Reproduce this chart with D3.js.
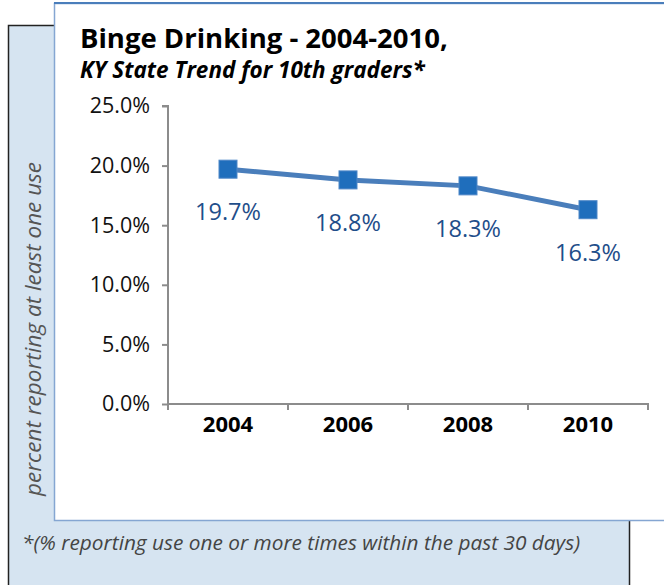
<!DOCTYPE html>
<html>
<head>
<meta charset="utf-8">
<script src="https://cdn.jsdelivr.net/npm/d3@7"></script>
<style>
  body { margin: 0; background: #fff; }
  text { font-family: "Open Sans", sans-serif; }
</style>
</head>
<body>
<div id="chart"></div>
<script>
// data
const years = ["2004", "2006", "2008", "2010"]
const rates = [19.7, 18.8, 18.3, 16.3]
const yTicks = [0, 5, 10, 15, 20, 25]

const width = 664, height = 585

const svg = d3.select("#chart").append("svg")
    .attr("width", width)
    .attr("height", height)

// light blue backing panel
svg.append("rect")
    .attr("x", 8.5).attr("y", 25.5)
    .attr("width", 621).attr("height", 570)
    .attr("fill", "#d6e4f1")
    .attr("stroke", "#222").attr("stroke-width", 1.5)

// white chart box
svg.append("rect")
    .attr("x", 54.5).attr("y", 3.5)
    .attr("width", 620).attr("height", 517)
    .attr("fill", "#fff")
    .attr("stroke", "#85a6d2").attr("stroke-width", 1.5)
svg.append("line")
    .attr("x1", 54).attr("x2", width).attr("y1", 3).attr("y2", 3)
    .attr("stroke", "#4a7ebb").attr("stroke-width", 2)

// titles
svg.append("text")
    .attr("x", 80).attr("y", 48)
    .attr("font-size", 27.5).attr("font-weight", "bold")
    .attr("fill", "#000")
    .text("Binge Drinking - 2004-2010,")
svg.append("text")
    .attr("x", 80).attr("y", 78)
    .attr("font-size", 22.5).attr("font-weight", "bold").attr("font-style", "italic")
    .attr("fill", "#000")
    .text("KY State Trend for 10th graders*")

const margin = { top: 106, left: 168 }

const x = d3.scaleBand()
    .domain(years)
    .range([margin.left, margin.left + 480])

const y = d3.scaleLinear()
    .domain([0, 25])
    .range([404, margin.top])

// y axis
const yAxis = svg.append("g")
    .attr("transform", `translate(${margin.left},0)`)
    .call(d3.axisLeft(y).tickValues(yTicks).tickSize(6).tickPadding(12)
        .tickFormat(d => d3.format(".1f")(d) + "%"))
yAxis.select(".domain").attr("stroke", "#8c8c8c").attr("stroke-width", 2)
    .attr("d", `M-6,${y(25)}H0V${y(0)}`)
yAxis.selectAll(".tick line").attr("stroke", "#8c8c8c").attr("stroke-width", 2)
yAxis.selectAll(".tick text")
    .attr("font-size", 21.5).attr("fill", "#111")
    .attr("font-family", "Open Sans, sans-serif")

// x axis
const xAxis = svg.append("g")
    .attr("transform", `translate(0,${y(0)})`)
    .call(d3.axisBottom(x).tickSize(0).tickPadding(12))
xAxis.select(".domain").attr("stroke", "#8c8c8c").attr("stroke-width", 2)
    .attr("d", `M${margin.left},0H${margin.left + 480}V6`)
xAxis.selectAll(".tick text")
    .attr("font-size", 22).attr("font-weight", "bold").attr("fill", "#000")
    .attr("font-family", "Open Sans, sans-serif")
xAxis.selectAll(".bound")
    .data(d3.range(years.length))
    .enter().append("line")
    .attr("x1", i => x(years[i])).attr("x2", i => x(years[i]))
    .attr("y1", 0).attr("y2", 6)
    .attr("stroke", "#8c8c8c").attr("stroke-width", 2)

// axis title
svg.append("text")
    .attr("transform", `translate(41,329) rotate(-90)`)
    .attr("text-anchor", "middle")
    .attr("font-size", 22.5).attr("font-style", "italic")
    .attr("fill", "#555")
    .text("percent reporting at least one use")

const cx = i => x(years[i]) + x.bandwidth() / 2

// line
svg.append("path")
    .datum(rates)
    .attr("fill", "none")
    .attr("stroke", "#4a7ebb")
    .attr("stroke-width", 5)
    .attr("d", d3.line().x((d, i) => cx(i)).y(d => y(d)))

// markers
svg.selectAll(".marker")
    .data(rates)
    .enter().append("rect")
    .attr("x", (d, i) => cx(i) - 9)
    .attr("y", d => y(d) - 9)
    .attr("width", 18).attr("height", 18)
    .attr("fill", "#1f6ebc")
    .attr("stroke", "#4f87c7").attr("stroke-width", 1)

// value labels
svg.selectAll(".lbl")
    .data(rates)
    .enter().append("text")
    .attr("x", (d, i) => cx(i))
    .attr("y", d => y(d) + 51)
    .attr("text-anchor", "middle")
    .attr("font-size", 23.5)
    .attr("fill", "#1f4e8a")
    .text(d => d3.format(".1f")(d) + "%")

// footnote
svg.append("text")
    .attr("x", 22).attr("y", 550)
    .attr("font-size", 20.8).attr("font-style", "italic")
    .attr("fill", "#444")
    .text("*(% reporting use one or more times within the past 30 days)")
</script>
</body>
</html>
